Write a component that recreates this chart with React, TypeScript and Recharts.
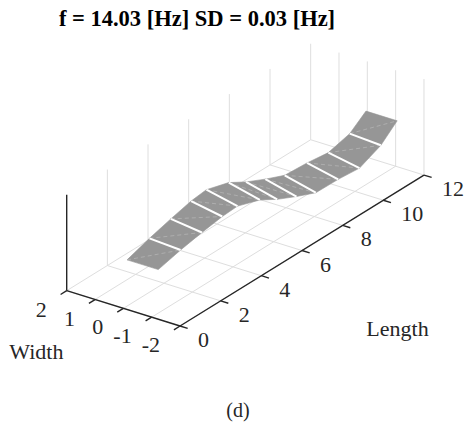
import React from 'react';
import { ScatterChart, Scatter, XAxis, YAxis, Polygon } from 'recharts';

// Measurement stations along the beam
const lengthStations = [0.95, 2.05, 3.1, 4.1, 4.85, 5.95, 6.8, 7.75, 8.7, 9.8, 10.85, 11.9, 12.7];
// Mode-shape amplitude on the two long edges of the strip (back edge W=+0.55, front edge W=-0.55)
const modeAmplitudeBack = [0.33, 0.41, 0.475, 0.53, 0.55, 0.48, 0.375, 0.28, 0.195, 0.18, 0.15, 0.21, 0.34];
const modeAmplitudeFront = [0.33, 0.39, 0.435, 0.47, 0.48, 0.4, 0.295, 0.2, 0.115, 0.11, 0.09, 0.19, 0.34];
// The strip spans this band across the width
const stripWidthEdges = [0.55, -0.55];

const lengthTicks = [0, 2, 4, 6, 8, 10, 12];
const lengthTickLabels = ['0', '2', '4', '6', '8', '10', '12'];
const widthTicks = [2, 1, 0, -1, -2];
const widthTickLabels = ['2', '1', '0', '-1', '-2'];

const titleText = 'f = 14.03 [Hz] SD = 0.03 [Hz]';
const captionText = '(d)';
const lengthLabel = 'Length';
const widthLabel = 'Width';

// Axis limits of the 3-D box
const LENGTH_LIM = [0, 12];
const WIDTH_LIM = [-2, 2];
const Z_LIM = [0, 1];

// Oblique camera: where the box corner (L=0, W=max, Z=min) lands and how each unit moves
const VIEW = {
  originU: 66.7,
  originV: 290.7,
  lenU: 20.33,
  lenV: -12.58,
  widU: -28.33,
  widV: -8.83,
  zV: -96,
};

const W = 475;
const H = 441;
const FONT = '"Liberation Serif", "Times New Roman", serif';
const GRID = '#dedede';
const AXIS = '#262626';
const SURF = '#969696';

type P3 = [number, number, number];
type P2 = { u: number; v: number };

function project([L, Wd, Z]: P3): P2 {
  const dw = Wd - WIDTH_LIM[1];
  const dz = (Z - Z_LIM[0]) / (Z_LIM[1] - Z_LIM[0]);
  return {
    u: VIEW.originU + L * VIEW.lenU + dw * VIEW.widU,
    v: VIEW.originV + L * VIEW.lenV + dw * VIEW.widV + dz * VIEW.zV,
  };
}

const Hidden = () => <g />;

function toPts(points: { x: number; y: number }[]) {
  return points.map((p) => `${p.x},${p.y}`).join(' ');
}

function lineSeries(key: string, pts: P3[], stroke: string, width: number, dash?: string) {
  return (
    <Scatter
      key={key}
      data={pts.map(project)}
      isAnimationActive={false}
      shape={Hidden}
      line={(p: any) => (
        <polyline
          points={toPts(p.points)}
          fill="none"
          stroke={stroke}
          strokeWidth={width}
          strokeDasharray={dash}
          strokeLinecap="butt"
        />
      )}
    />
  );
}

function panelSeries(key: string, pts: P3[]) {
  return (
    <Scatter
      key={key}
      data={pts.map(project)}
      isAnimationActive={false}
      shape={Hidden}
      line={(p: any) => (
        <Polygon points={p.points} fill={SURF} stroke={SURF} strokeWidth={0.6} strokeLinejoin="round" />
      )}
    />
  );
}

function labelSeries(
  key: string,
  items: { at: P3; text: string }[],
  dx: number,
  dy: number,
  anchor: 'start' | 'middle' | 'end',
  size: number,
) {
  return (
    <Scatter
      key={key}
      data={items.map((it) => ({ ...project(it.at), text: it.text }))}
      isAnimationActive={false}
      shape={(p: any) => (
        <text
          x={p.cx + dx}
          y={p.cy + dy}
          textAnchor={anchor}
          dominantBaseline="central"
          fontFamily={FONT}
          fontSize={size}
          fill="#262626"
        >
          {p.payload.text}
        </text>
      )}
    />
  );
}

export default function App() {
  const [wMax, wMin] = [WIDTH_LIM[1], WIDTH_LIM[0]];
  const [lMin, lMax] = LENGTH_LIM;
  const [zMin, zMax] = Z_LIM;

  const series: React.ReactNode[] = [];

  // floor grid
  lengthTicks.forEach((L) => series.push(lineSeries(`gl${L}`, [[L, wMax, zMin], [L, wMin, zMin]], GRID, 1)));
  widthTicks.forEach((w) => series.push(lineSeries(`gw${w}`, [[lMin, w, zMin], [lMax, w, zMin]], GRID, 1)));
  // back-wall verticals
  lengthTicks
    .filter((L) => L > lMin)
    .forEach((L) => series.push(lineSeries(`vl${L}`, [[L, wMax, zMin], [L, wMax, zMax]], GRID, 1)));
  widthTicks
    .filter((w) => w < wMax)
    .forEach((w) => series.push(lineSeries(`vw${w}`, [[lMax, w, zMin], [lMax, w, zMax]], GRID, 1)));

  // axes and ticks
  series.push(lineSeries('axw', [[lMin, wMax, zMin], [lMin, wMin, zMin]], AXIS, 1.4));
  series.push(lineSeries('axl', [[lMin, wMin, zMin], [lMax, wMin, zMin]], AXIS, 1.4));
  series.push(lineSeries('axz', [[lMin, wMax, zMin], [lMin, wMax, zMax]], AXIS, 1.4));
  widthTicks.forEach((w) =>
    series.push(lineSeries(`tw${w}`, [[lMin, w, zMin], [lMin - 0.3, w, zMin]], AXIS, 1.4)),
  );
  lengthTicks.forEach((L) =>
    series.push(lineSeries(`tl${L}`, [[L, wMin, zMin], [L, wMin - 0.27, zMin]], AXIS, 1.4)),
  );

  // surface panels, far end first so nearer panels sit on top; white seams between stations
  const [wa, wb] = stripWidthEdges;
  const last = lengthStations.length - 1;
  for (let i = last - 1; i >= 0; i--) {
    const L0 = lengthStations[i];
    const L1 = lengthStations[i + 1];
    const a0 = modeAmplitudeBack[i];
    const a1 = modeAmplitudeBack[i + 1];
    const b0 = modeAmplitudeFront[i];
    const b1 = modeAmplitudeFront[i + 1];
    series.push(
      panelSeries(`p${i}`, [
        [L0, wa, a0],
        [L1, wa, a1],
        [L1, wb, b1],
        [L0, wb, b0],
      ]),
    );
    series.push(lineSeries(`d${i}`, [[L0, wa, a0], [L1, wb, b1]], '#b4b4b4', 0.8, '4 3'));
    if (i + 1 < last) {
      series.push(lineSeries(`s${i + 1}`, [[L1, wa, a1], [L1, wb, b1]], '#ffffff', 2));
    }
  }

  // tick labels and axis names
  series.push(
    labelSeries(
      'lw',
      widthTicks.map((w, i) => ({ at: [lMin, w, zMin] as P3, text: widthTickLabels[i] })),
      -20,
      18.5,
      'end',
      22,
    ),
  );
  series.push(
    labelSeries(
      'll',
      lengthTicks.map((L, i) => ({ at: [L, wMin, zMin] as P3, text: lengthTickLabels[i] })),
      18,
      13.5,
      'start',
      22,
    ),
  );
  series.push(labelSeries('nw', [{ at: [lMin, 0, zMin], text: widthLabel }], -87, 43, 'middle', 22));
  series.push(labelSeries('nl', [{ at: [6, wMin, zMin], text: lengthLabel }], 95.5, 78, 'middle', 22));

  return (
    <div style={{ position: 'absolute', left: 0, top: 0, width: W, height: H, background: '#fff' }}>
      <ScatterChart width={W} height={H} margin={{ top: 0, right: 0, bottom: 0, left: 0 }}>
        <XAxis type="number" dataKey="u" domain={[0, W]} allowDataOverflow hide />
        <YAxis type="number" dataKey="v" domain={[0, H]} allowDataOverflow reversed hide />
        {series}
      </ScatterChart>
      <svg
        width={W}
        height={H}
        style={{ position: 'absolute', left: 0, top: 0, pointerEvents: 'none' }}
      >
        <text x={197} y={26} textAnchor="middle" fontFamily={FONT} fontWeight="bold" fontSize={22.5} fill="#000">
          {titleText}
        </text>
        <text x={238} y={417} textAnchor="middle" fontFamily={FONT} fontSize={20} fill="#262626">
          {captionText}
        </text>
      </svg>
    </div>
  );
}
